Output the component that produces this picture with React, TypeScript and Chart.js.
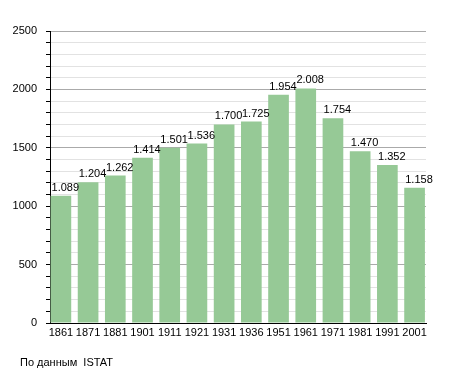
import React, { useEffect, useRef } from "react";
import { Chart, registerables } from "chart.js";

Chart.register(...registerables);

const years = ["1861", "1871", "1881", "1901", "1911", "1921", "1931", "1936", "1951", "1961", "1971", "1981", "1991", "2001"];
const population = [1089, 1204, 1262, 1414, 1501, 1536, 1700, 1725, 1954, 2008, 1754, 1470, 1352, 1158];
const yMajorTicks = [0, 500, 1000, 1500, 2000, 2500];
const sourceNote = "По данным  ISTAT";

const FONT = "'Liberation Sans', Arial, sans-serif";

const fmt = (v: number) => String(v).replace(/\B(?=(\d{3})+(?!\d))/g, ".");

const valueLabels = {
  id: "valueLabels",
  afterDatasetsDraw(chart: any) {
    const { ctx } = chart;
    const meta = chart.getDatasetMeta(0);
    ctx.save();
    ctx.font = `11px ${FONT}`;
    ctx.fillStyle = "#000";
    ctx.textAlign = "left";
    ctx.textBaseline = "alphabetic";
    meta.data.forEach((el: any, i: number) => {
      const { x, y, width } = el.getProps(["x", "y", "width"], true);
      ctx.fillText(fmt(population[i]), x - width / 2 + 1, y - 5);
    });
    ctx.restore();
  },
};

export default function App() {
  const ref = useRef<HTMLCanvasElement | null>(null);
  useEffect(() => {
    if (!ref.current) return;
    const chart = new Chart(ref.current, {
      type: "bar",
      data: {
        datasets: [
          {
            data: population.map((v, i) => ({ x: i, y: v })),
            backgroundColor: "#96c996",
            borderWidth: 0,
            barPercentage: 0.76,
            categoryPercentage: 1,
          },
        ],
      },
      plugins: [valueLabels],
      options: {
        animation: false,
        responsive: true,
        maintainAspectRatio: false,
        layout: { padding: { top: 31, right: 29, bottom: 0, left: 0 } },
        plugins: { legend: { display: false }, tooltip: { enabled: false } },
        scales: {
          x: {
            type: "linear",
            offset: false,
            min: -0.4,
            max: 13.42,
            afterFit: (s: any) => {
              s.height = 50;
            },
            grid: { display: false, drawTicks: false, tickLength: 0 },
            border: { display: true, color: "#000", width: 1 },
            ticks: {
              stepSize: 1,
              includeBounds: false,
              autoSkip: false,
              maxRotation: 0,
              padding: 3,
              color: "#000",
              font: { family: FONT, size: 11 },
              callback: (v: any) => (Number.isInteger(v) && years[v] ? years[v] : ""),
            },
          },
          y: {
            min: 0,
            max: 2500,
            afterFit: (s: any) => {
              s.width = 50;
            },
            grid: {
              color: (c: any) => (yMajorTicks.includes(c.tick?.value) ? "#aaaaaa" : "#e2e2e2"),
              tickColor: "#000",
              tickLength: 4,
            },
            border: { display: true, color: "#000", width: 1 },
            ticks: {
              stepSize: 100,
              autoSkip: false,
              padding: 9,
              color: "#000",
              font: { family: FONT, size: 11 },
              callback: (v: any) => (yMajorTicks.includes(v) ? String(v) : ""),
            },
          },
        },
      },
    });
    return () => chart.destroy();
  }, []);
  return (
    <div style={{ position: "absolute", left: 0, top: 0, width: 455, height: 373, background: "#fff" }}>
      <canvas ref={ref} />
      <div
        style={{
          position: "absolute",
          left: 20,
          top: 355,
          fontFamily: FONT,
          fontSize: 11,
          color: "#000",
          whiteSpace: "pre",
          lineHeight: "14px",
        }}
      >
        {sourceNote}
      </div>
    </div>
  );
}
